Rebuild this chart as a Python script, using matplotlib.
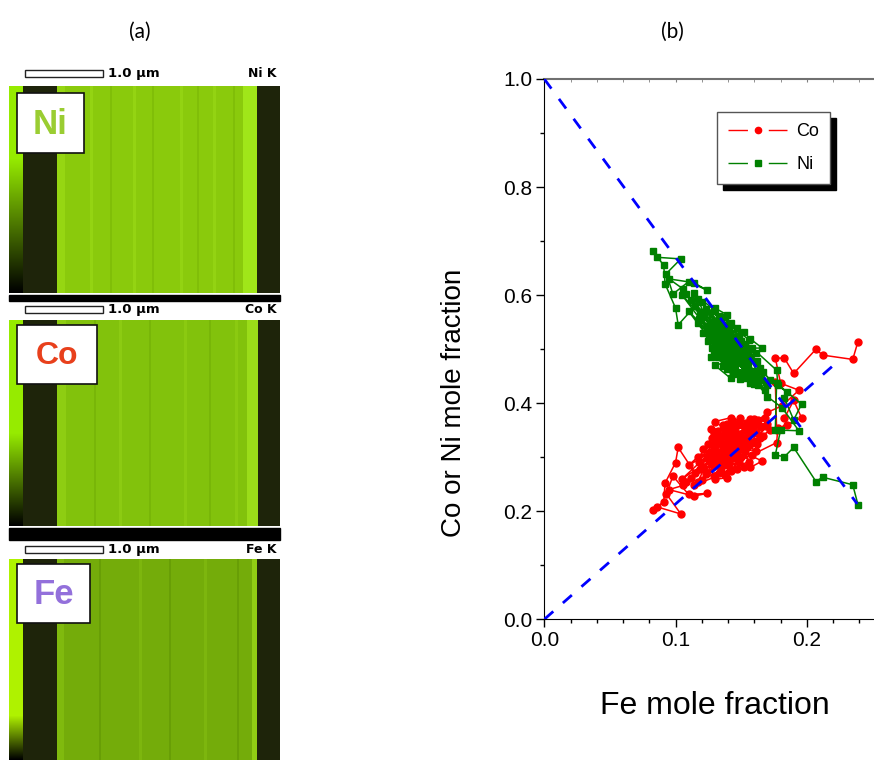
import numpy as np
import matplotlib

matplotlib.use("Agg")
import matplotlib.pyplot as plt
from matplotlib.patches import Rectangle
from matplotlib.lines import Line2D
from matplotlib.ticker import MultipleLocator, FormatStrFormatter

plt.rcParams["font.family"] = ["Liberation Sans", "DejaVu Sans"]

W, H = 874, 760

# ---- (b) line-scan composition, one entry per analysed spot
fe = [0.239, 0.235, 0.212, 0.207, 0.190, 0.183, 0.176, 0.180, 0.194, 0.181,
      0.170, 0.145, 0.138, 0.152, 0.131, 0.160, 0.148, 0.126, 0.141, 0.157,
      0.135, 0.122, 0.150, 0.165, 0.144, 0.128, 0.133, 0.162, 0.139, 0.118,
      0.155, 0.147, 0.170, 0.136, 0.124, 0.158, 0.142, 0.130, 0.115, 0.102,
      0.100, 0.092, 0.091, 0.083, 0.086, 0.104, 0.093, 0.098, 0.110, 0.124,
      0.114, 0.095, 0.106, 0.112, 0.153, 0.167, 0.140, 0.127, 0.149, 0.137,
      0.121, 0.159, 0.134, 0.146, 0.108, 0.163, 0.129, 0.156, 0.143, 0.132,
      0.119, 0.151, 0.168, 0.138, 0.125, 0.161, 0.130, 0.142, 0.139, 0.130,
      0.145, 0.154, 0.135, 0.172, 0.123, 0.141, 0.157, 0.129, 0.148, 0.117,
      0.164, 0.136, 0.152, 0.126, 0.144, 0.157, 0.166, 0.131, 0.110, 0.155,
      0.139, 0.147, 0.120, 0.160, 0.133, 0.150, 0.114, 0.142, 0.169, 0.127,
      0.138, 0.153, 0.105, 0.145, 0.129, 0.161, 0.134, 0.117, 0.148, 0.177,
      0.178, 0.185, 0.183, 0.190, 0.196, 0.177, 0.176]
co = [0.514, 0.481, 0.489, 0.500, 0.455, 0.483, 0.484, 0.437, 0.424, 0.395,
      0.383, 0.330, 0.352, 0.318, 0.295, 0.345, 0.362, 0.310, 0.285, 0.371,
      0.330, 0.280, 0.300, 0.355, 0.345, 0.335, 0.270, 0.325, 0.312, 0.292,
      0.338, 0.279, 0.362, 0.360, 0.298, 0.305, 0.326, 0.318, 0.270, 0.318,
      0.290, 0.252, 0.218, 0.202, 0.208, 0.195, 0.232, 0.265, 0.231, 0.233,
      0.228, 0.240, 0.248, 0.262, 0.352, 0.340, 0.300, 0.287, 0.372, 0.342,
      0.315, 0.359, 0.305, 0.315, 0.255, 0.368, 0.265, 0.292, 0.358, 0.348,
      0.278, 0.333, 0.372, 0.290, 0.325, 0.312, 0.366, 0.373, 0.262, 0.259,
      0.298, 0.364, 0.281, 0.350, 0.268, 0.338, 0.325, 0.345, 0.340, 0.300,
      0.335, 0.322, 0.282, 0.300, 0.367, 0.281, 0.293, 0.332, 0.285, 0.350,
      0.362, 0.308, 0.258, 0.370, 0.290, 0.322, 0.248, 0.275, 0.357, 0.352,
      0.267, 0.337, 0.260, 0.350, 0.300, 0.347, 0.338, 0.255, 0.292, 0.327,
      0.354, 0.360, 0.373, 0.405, 0.373, 0.351, 0.440]
ni = [0.212, 0.249, 0.263, 0.255, 0.318, 0.301, 0.304, 0.350, 0.349, 0.392,
      0.412, 0.490, 0.475, 0.495, 0.539, 0.460, 0.455, 0.529, 0.539, 0.437,
      0.500, 0.563, 0.515, 0.445, 0.476, 0.502, 0.562, 0.478, 0.514, 0.555,
      0.472, 0.539, 0.433, 0.469, 0.543, 0.502, 0.497, 0.517, 0.580, 0.545,
      0.576, 0.621, 0.655, 0.681, 0.670, 0.667, 0.640, 0.602, 0.625, 0.609,
      0.623, 0.630, 0.611, 0.591, 0.460, 0.458, 0.525, 0.551, 0.444, 0.486,
      0.529, 0.447, 0.526, 0.504, 0.602, 0.434, 0.571, 0.517, 0.464, 0.485,
      0.568, 0.481, 0.425, 0.537, 0.515, 0.492, 0.470, 0.446, 0.564, 0.576,
      0.522, 0.447, 0.549, 0.443, 0.574, 0.486, 0.483, 0.491, 0.477, 0.548,
      0.466, 0.507, 0.531, 0.539, 0.454, 0.519, 0.502, 0.502, 0.570, 0.460,
      0.464, 0.510, 0.587, 0.435, 0.542, 0.493, 0.603, 0.548, 0.439, 0.486,
      0.560, 0.475, 0.600, 0.470, 0.536, 0.457, 0.493, 0.593, 0.525, 0.461,
      0.433, 0.420, 0.409, 0.369, 0.398, 0.437, 0.350]

# dashed reference lines (start, end)
guide_x = [[0.0, 0.2384], [0.0, 0.2244]]
guide_y = [[1.0, 0.2136], [0.0, 0.4788]]

# ---- (a) EDS maps
map_names = ["Ni", "Co", "Fe"]
map_label_colors = ["#9acd32", "#e8401c", "#9370db"]
map_lines = ["Ni K", "Co K", "Fe K"]
# fraction of the intensity strip that stays at full brightness
strip_full = [0.35, 0.55, 0.78]
# column bands inside each 271 px wide map: (first col, last col, rgb)
DARK = (30, 36, 10)
map_bands = [
    [(14, 48, DARK), (48, 234, (138, 202, 12)), (234, 248, (160, 230, 25)), (248, 271, DARK)],
    [(14, 48, DARK), (48, 238, (130, 194, 12)), (238, 249, (155, 220, 25)), (249, 271, DARK)],
    [(14, 48, DARK), (48, 243, (116, 172, 10)), (243, 248, (145, 205, 20)), (248, 271, DARK)],
]
# faint vertical growth stripes: (col, width, rgb)
map_stripes = [
    [(48, 8, (150, 214, 18)), (81, 3, (148, 212, 18)), (101, 2, (128, 190, 8)),
     (124, 3, (148, 212, 18)), (143, 2, (128, 190, 8)), (171, 3, (147, 211, 18)),
     (188, 2, (128, 190, 8)), (204, 3, (147, 211, 18)), (224, 2, (128, 190, 8))],
    [(48, 9, (142, 205, 18)), (85, 2, (120, 182, 8)), (110, 3, (140, 203, 18)),
     (140, 2, (120, 182, 8)), (175, 3, (139, 202, 16)), (200, 2, (120, 182, 8)),
     (226, 3, (139, 202, 16))],
    [(48, 7, (128, 186, 14)), (90, 2, (104, 158, 6)), (130, 3, (125, 182, 14)),
     (160, 2, (104, 158, 6)), (195, 3, (125, 182, 14)), (228, 2, (104, 158, 6))],
]
strip_lime = [(150, 235, 0), (150, 235, 0), (175, 242, 0)]

fig = plt.figure(figsize=(W / 100, H / 100), dpi=100)

# pixel-coordinate canvas for panel (a) and decorations
bg = fig.add_axes([0, 0, 1, 1], zorder=0)
bg.set_xlim(0, W)
bg.set_ylim(H, 0)
bg.axis("off")

img_top = [86, 320, 559]
img_bot = [293, 526, 760]
bar_y = [70, 306, 546]
box_xy = [(17, 93, 67, 60), (17, 325, 80, 59), (17, 564, 73, 59)]
box_fs = [25, 23, 25]

for i, name in enumerate(map_names):
    h = img_bot[i] - img_top[i]
    img = np.zeros((h, 271, 3))
    for c0, c1, rgb in map_bands[i]:
        img[:, c0:c1] = np.array(rgb) / 255
    for c, w, rgb in map_stripes[i]:
        img[:, c:c + w] = np.array(rgb) / 255
    t = np.linspace(0, 1, h)
    k = np.clip((1 - t) / (1 - strip_full[i]), 0, 1)
    img[:, :14] = k[:, None, None] * (np.array(strip_lime[i]) / 255)
    bg.imshow(img, extent=(9, 280, img_bot[i], img_top[i]), aspect="auto",
              interpolation="bilinear", zorder=1)

    # scale bar header
    by = bar_y[i]
    bg.add_patch(Rectangle((25, by), 78, 7, facecolor="white", edgecolor="#222222", lw=1, zorder=2))
    bg.text(108, by + 3.5, "1.0 µm", family="DejaVu Sans", fontweight="bold", fontsize=9.5,
            va="center", ha="left", zorder=3)
    bg.text(277, by + 3.5, map_lines[i], family="DejaVu Sans", fontweight="bold", fontsize=9,
            va="center", ha="right", zorder=3)

    # element label box
    x0, y0, bw, bh = box_xy[i]
    bg.add_patch(Rectangle((x0, y0), bw, bh, facecolor="white", edgecolor="#111111", lw=1.2, zorder=2))
    bg.text(x0 + bw / 2, y0 + bh / 2 + 1, name, color=map_label_colors[i], fontweight="bold",
            fontsize=box_fs[i], ha="center", va="center", zorder=3)

# black separators between maps
bg.add_patch(Rectangle((9, 295), 271, 6, color="black", zorder=2))
bg.add_patch(Rectangle((9, 528), 271, 12, color="black", zorder=2))

fig.text(140 / W, 1 - 32 / H, "(a)", family=["Lato", "DejaVu Sans"], fontsize=15, ha="center", va="center")
fig.text(672 / W, 1 - 32 / H, "(b)", family=["Lato", "DejaVu Sans"], fontsize=15, ha="center", va="center")

# ---- panel (b)
x0p, y0p, y1p = 544.3, 79.0, 619.3
ax = fig.add_axes([x0p / W, 1 - y1p / H, (W - x0p) / W, (y1p - y0p) / H], zorder=1)
ax.set_facecolor("none")
ax.plot(fe, co, "-o", color="red", lw=1.1, ms=5, zorder=3)
ax.plot(fe, ni, "-s", color="green", lw=1.1, ms=4.5, zorder=3)
for gx, gy in zip(guide_x, guide_y):
    ax.plot(gx, gy, color="blue", lw=2, dashes=(4.3, 4.6), zorder=4)

ax.set_xlim(0, 0.2512)
ax.set_ylim(0, 1)
ax.xaxis.set_major_locator(MultipleLocator(0.1))
ax.xaxis.set_minor_locator(MultipleLocator(0.02))
ax.yaxis.set_major_locator(MultipleLocator(0.2))
ax.yaxis.set_minor_locator(MultipleLocator(0.1))
ax.xaxis.set_major_formatter(FormatStrFormatter("%.1f"))
ax.yaxis.set_major_formatter(FormatStrFormatter("%.1f"))
ax.tick_params(which="both", direction="out", top=False, right=False, width=1)
ax.tick_params(which="major", length=5.5, labelsize=15, pad=3)
ax.tick_params(which="minor", length=3)
ax.spines["right"].set_visible(False)
ax.spines["top"].set_visible(False)

top = ax.secondary_xaxis("top")
top.xaxis.set_major_locator(MultipleLocator(0.1))
top.xaxis.set_minor_locator(MultipleLocator(0.02))
top.tick_params(which="both", direction="in", length=2.5, colors="#808080", labeltop=False)
top.spines["top"].set_color("#707070")
top.spines["top"].set_linewidth(1.5)

fig.text(715 / W, 1 - 706 / H, "Fe mole fraction", fontsize=23, ha="center", va="center")
fig.text(454 / W, 1 - 403 / H, "Co or Ni mole fraction", fontsize=20, rotation=90,
         ha="center", va="center")

handles = [
    Line2D([], [], color="red", lw=1, ls=(0, (14, 15)), marker="o", ms=4.5),
    Line2D([], [], color="green", lw=1, ls=(0, (14, 15)), marker="s", ms=4),
]
leg = ax.legend(handles, ["Co", "Ni"], loc="upper left",
                bbox_to_anchor=(717 / W, 1 - 112 / H), bbox_transform=fig.transFigure,
                borderaxespad=0, fontsize=13, handlelength=3.3, handletextpad=0.5,
                borderpad=0.6, labelspacing=0.9, fancybox=False, framealpha=1,
                edgecolor="#555555")
leg.get_frame().set_linewidth(1)

# solid black drop shadow behind the legend box
fig.canvas.draw()
bb = leg.get_window_extent()
bg.add_patch(Rectangle((bb.x0 + 6, H - bb.y1 + 6), bb.width, bb.height, color="black", zorder=5))

fig.savefig("out.png", dpi=100)
